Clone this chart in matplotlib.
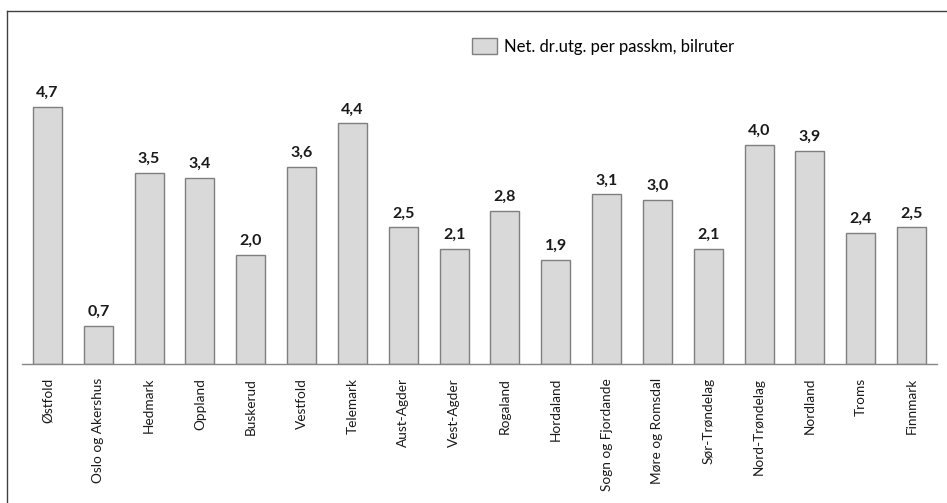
import matplotlib
matplotlib.use("Agg")
import matplotlib.pyplot as plt
from matplotlib.lines import Line2D

categories = ["Østfold", "Oslo og Akershus", "Hedmark", "Oppland", "Buskerud", "Vestfold",
              "Telemark", "Aust-Agder", "Vest-Agder", "Rogaland", "Hordaland", "Sogn og Fjordande",
              "Møre og Romsdal", "Sør-Trøndelag", "Nord-Trøndelag", "Nordland", "Troms", "Finnmark"]
values = [4.7, 0.7, 3.5, 3.4, 2.0, 3.6, 4.4, 2.5, 2.1, 2.8, 1.9, 3.1, 3.0, 2.1, 4.0, 3.9, 2.4, 2.5]
series_name = "Net. dr.utg. per passkm, bilruter"

plt.rcParams['font.family'] = ['Lato', 'DejaVu Sans']

W, H = 947, 503
fig = plt.figure(figsize=(W/100, H/100), dpi=100)
ax = fig.add_axes([22/W, 1 - 364/H, (937-22)/W, (364-11)/H])

x = list(range(len(categories)))
bars = ax.bar(x, values, width=0.57, color="#d9d9d9", edgecolor="#7f7f7f", linewidth=1.0,
              label=series_name)
for xi, v in zip(x, values):
    ax.annotate(f"{v:.1f}".replace(".", ","), (xi, v), xytext=(0, 5), textcoords="offset points",
                ha="center", va="bottom", fontsize=11.5, fontweight="bold", color="#1a1a1a")

ax.set_xlim(-0.5, len(categories) - 0.5)
ax.set_ylim(0, 353/54.7)
ax.set_xticks(x)
ax.set_xticklabels(categories, rotation=90, fontsize=9.8, color="#1a1a1a")
ax.tick_params(axis="x", length=0, pad=10)
ax.set_yticks([])
for s in ["top", "right", "left"]:
    ax.spines[s].set_visible(False)
ax.spines["bottom"].set_color("#868686")
ax.spines["bottom"].set_linewidth(1.0)

fig.legend(handles=[bars], labels=[series_name], loc="upper left",
           bbox_to_anchor=(472/W, 1 - 38/H), frameon=False, fontsize=12,
           borderpad=0, borderaxespad=0, handlelength=1.5, handleheight=1.1, handletextpad=0.4)

# figure border (left and top only, as cropped in reference)
fig.add_artist(Line2D([7/W, 7/W], [0, 1 - 11/H], transform=fig.transFigure, color="#404040", lw=1.0))
fig.add_artist(Line2D([7/W, 1], [1 - 11/H, 1 - 11/H], transform=fig.transFigure, color="#404040", lw=1.0))

fig.savefig("out.png", dpi=100, facecolor="white")
